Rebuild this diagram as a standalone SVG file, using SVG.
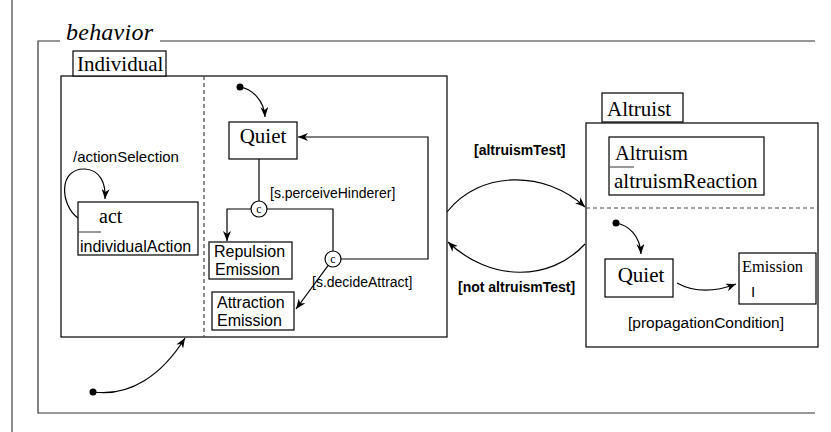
<svg xmlns="http://www.w3.org/2000/svg" width="831" height="432" viewBox="0 0 831 432">
<style>
.ln{fill:none;stroke:#000;stroke-width:1.2}
.fr{fill:none;stroke:#333;stroke-width:1.2}
.bx{fill:#fff;stroke:#000;stroke-width:1.2}
.dash{fill:none;stroke:#444;stroke-width:1.2;stroke-dasharray:4,3}
.serif{font-family:"Liberation Serif","DejaVu Serif",serif;fill:#000}
.sans{font-family:"Liberation Sans",Arial,sans-serif;fill:#000}
.bold{font-family:"Liberation Sans",Arial,sans-serif;font-weight:bold;fill:#000;font-size:14px}
.dot{fill:#000}
</style>
<defs>
<marker id="ah" viewBox="0 0 10 8" refX="10" refY="4" markerWidth="11" markerHeight="8" markerUnits="userSpaceOnUse" orient="auto">
<path d="M0,0 L10,4 L0,8 L3,4 z" fill="#000"/>
</marker>
</defs>
<line x1="12" y1="0" x2="12" y2="432" stroke="#444" stroke-width="1.2"/>
<g id="frame">
<path class="fr" d="M60 41 H38 V413 H815 M160 41 H815"/>
<text class="serif" x="66" y="40" font-size="24" font-style="italic" textLength="87">behavior</text>
</g>
<g id="individual">
<rect class="bx" x="61" y="76" width="386" height="261"/>
<rect class="bx" x="73" y="51" width="93" height="25"/>
<text class="serif" x="77" y="71" font-size="21">Individual</text>
<line class="dash" x1="204" y1="76" x2="204" y2="337"/>
</g>
<g id="act">
<rect class="bx" x="78" y="202" width="120" height="53"/>
<text class="serif" x="99" y="223" font-size="20">act</text>
<line x1="78" y1="232" x2="101" y2="232" stroke="#555" stroke-width="1.2"/>
<text class="sans" x="80" y="252" font-size="16">individualAction</text>
</g>
<g id="quiet1">
<rect class="bx" x="229" y="122" width="68" height="37"/>
<text class="serif" x="263" y="143" font-size="21" text-anchor="middle">Quiet</text>
</g>
<g id="c1">
<circle class="bx" cx="259" cy="209" r="8"/>
<text class="serif" x="259" y="213" font-size="12" text-anchor="middle">c</text>
</g>
<g id="c2">
<circle class="bx" cx="333" cy="259" r="8"/>
<text class="serif" x="333" y="263" font-size="12" text-anchor="middle">c</text>
</g>
<g id="repulsion">
<rect class="bx" x="209" y="242" width="83" height="37"/>
<text class="sans" x="214" y="257" font-size="16">Repulsion</text>
<text class="sans" x="215" y="275" font-size="16">Emission</text>
</g>
<g id="attraction">
<rect class="bx" x="212" y="292" width="82" height="38"/>
<text class="sans" x="217" y="308" font-size="16">Attraction</text>
<text class="sans" x="217" y="326" font-size="16">Emission</text>
</g>
<g id="altruist">
<rect class="bx" x="586" y="123" width="232" height="224"/>
<rect class="bx" x="602" y="93" width="81" height="29"/>
<text class="serif" x="607" y="116" font-size="21">Altruist</text>
<line class="dash" x1="586" y1="208" x2="818" y2="208"/>
</g>
<g id="altruism">
<rect class="bx" x="609" y="137" width="155" height="58"/>
<text class="serif" x="615" y="160" font-size="20.5">Altruism</text>
<line x1="609" y1="167" x2="634" y2="167" stroke="#555" stroke-width="1.2"/>
<text class="serif" x="614" y="188" font-size="21">altruismReaction</text>
</g>
<g id="quiet2">
<rect class="bx" x="605" y="259" width="68" height="38"/>
<text class="serif" x="641" y="282" font-size="21" text-anchor="middle">Quiet</text>
</g>
<g id="emission">
<rect class="bx" x="739" y="253" width="77" height="51"/>
<text class="serif" x="742" y="272" font-size="16.4">Emission</text>
<text class="sans" x="751" y="297" font-size="15">I</text>
</g>
<g id="connectors">
<circle class="dot" cx="240" cy="87" r="3.5"/>
<path class="ln" d="M240 87 C252 89 264 100 265 117" marker-end="url(#ah)"/>
<path class="ln" d="M78 218 C60 205 58 168 85 169 C100 170 106 183 105 199" marker-end="url(#ah)"/>
<circle class="dot" cx="93" cy="392" r="3.5"/>
<path class="ln" d="M93 392 C130 397 162 375 185 338" marker-end="url(#ah)"/>
<path class="ln" d="M259 159 V201"/>
<path class="ln" d="M251 209 H227 V241" marker-end="url(#ah)"/>
<path class="ln" d="M267 209 H333 V251"/>
<path class="ln" d="M341 259 H428 V137 H298" marker-end="url(#ah)"/>
<path class="ln" d="M328.2 265.4 L296 309" marker-end="url(#ah)"/>
<path class="ln" d="M447 212 C480 170 545 170 585 207" marker-end="url(#ah)"/>
<path class="ln" d="M585 244 C550 282 490 282 448 242" marker-end="url(#ah)"/>
<circle class="dot" cx="616" cy="223" r="3.5"/>
<path class="ln" d="M616 223 C628 225 640 235 641 254" marker-end="url(#ah)"/>
<path class="ln" d="M677 283 C695 293 715 292 736 284" marker-end="url(#ah)"/>
</g>
<g id="labels">
<text class="sans" x="73" y="162" font-size="15">/actionSelection</text>
<text class="sans" x="270" y="198" font-size="14">[s.perceiveHinderer]</text>
<text class="sans" x="312" y="287" font-size="14">[s.decideAttract]</text>
<text class="bold" x="474" y="155">[altruismTest]</text>
<text class="bold" x="458" y="292">[not altruismTest]</text>
<text class="sans" x="628" y="328" font-size="15.5">[propagationCondition]</text>
</g>
</svg>
